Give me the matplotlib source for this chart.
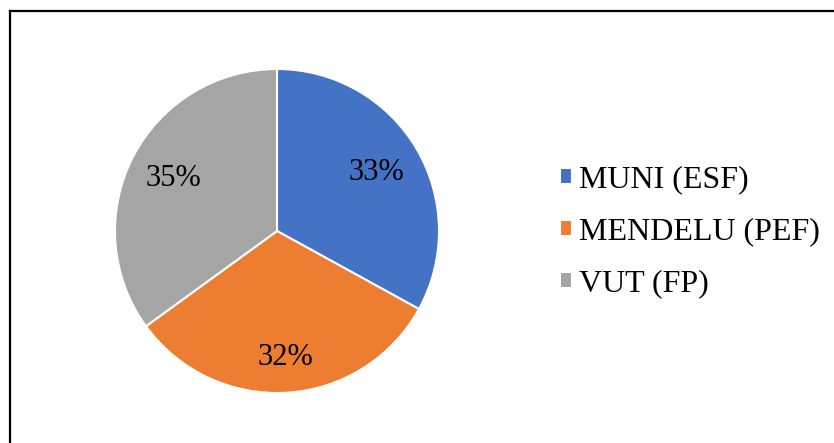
import numpy as np
import matplotlib.pyplot as plt
from matplotlib.lines import Line2D

labels = ["MUNI (ESF)", "MENDELU (PEF)", "VUT (FP)"]
shares = [33, 32, 35]
colors = ["#4472C4", "#ED7D31", "#A5A5A5"]
label_dist = [0.71, 0.78, 0.72]

plt.rcParams['font.family'] = ['Liberation Serif', 'DejaVu Serif']

W, H = 834, 443
fig = plt.figure(figsize=(W / 100, H / 100), dpi=100)

cx, cy, r = 277, 231, 162
ax = fig.add_axes([(cx - r) / W, (H - cy - r) / H, 2 * r / W, 2 * r / H])
wedges, texts, autotexts = ax.pie(
    shares, colors=colors, startangle=90, counterclock=False,
    autopct='%d%%', pctdistance=0.72,
    wedgeprops=dict(edgecolor='white', linewidth=1.5),
    textprops=dict(fontsize=22, color='black'))
ax.set_xlim(-1, 1)
ax.set_ylim(-1, 1)

for w, t, d in zip(wedges, autotexts, label_dist):
    mid = np.deg2rad((w.theta1 + w.theta2) / 2)
    t.set_position((d * np.cos(mid), d * np.sin(mid)))

leg = fig.legend(wedges, labels, loc='center left',
                 bbox_to_anchor=(560 / W, 1 - 232 / H), frameon=False,
                 fontsize=23, handlelength=0.36, handleheight=0.36,
                 handletextpad=0.25, labelspacing=0.72, borderpad=0,
                 borderaxespad=0)

# frame lines (top and left only visible)
fig.add_artist(Line2D([9.5 / W, 9.5 / W], [0, 1 - 10.5 / H], color='black', lw=1.6,
                      transform=fig.transFigure))
fig.add_artist(Line2D([9.5 / W, 1], [1 - 10.5 / H, 1 - 10.5 / H], color='black', lw=1.6,
                      transform=fig.transFigure))

fig.savefig("out.png", dpi=100)
